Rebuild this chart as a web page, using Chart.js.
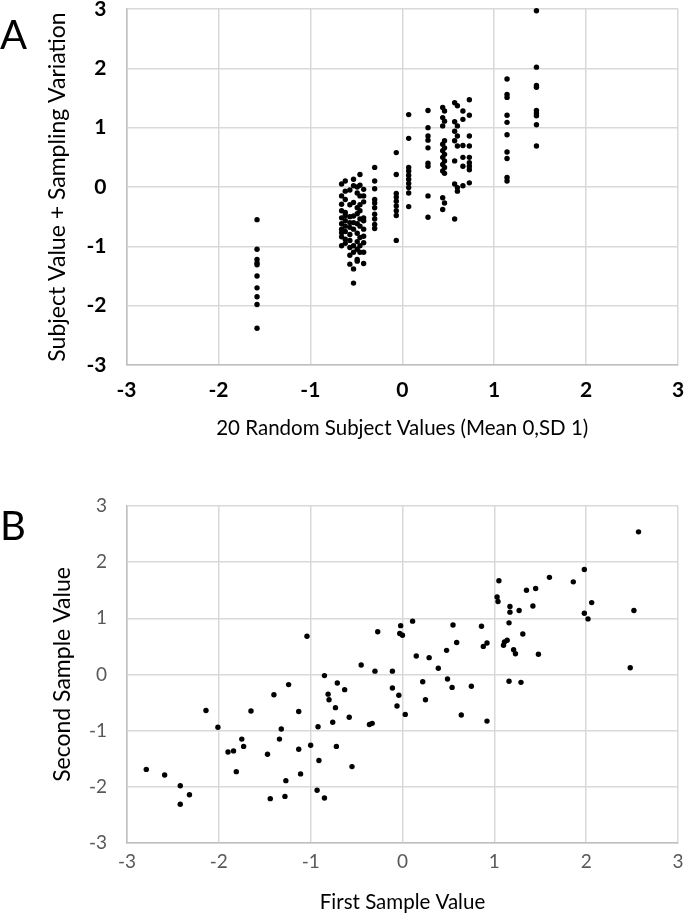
<!DOCTYPE html>
<html><head><meta charset="utf-8">
<script src="https://cdn.jsdelivr.net/npm/chart.js@4"></script>
<style>
html,body{margin:0;padding:0;background:#fff;}
#wrap{position:relative;width:685px;height:921px;overflow:hidden;background:#fff;}
canvas{position:absolute;left:0;}
.lbl{position:absolute;left:0;font-family:Lato,"Open Sans",sans-serif;font-size:40px;line-height:40px;color:#000;}
</style></head>
<body><div id="wrap">
<canvas id="cA" width="685" height="460" style="top:0"></canvas>
<canvas id="cB" width="685" height="461" style="top:460px"></canvas>
<div class="lbl" style="top:14px">A</div>
<div class="lbl" style="top:505px">B</div>
</div>
<script>
// ---- data ----
const tickValues = [-3, -2, -1, 0, 1, 2, 3];

// Panel A: 20 subject values (x) and their repeated samples (y)
const subjectValues = [-1.58, -0.66, -0.62, -0.57, -0.53, -0.49, -0.46, -0.42, -0.30, -0.065,
                       0.07, 0.28, 0.44, 0.46, 0.57, 0.60, 0.66, 0.73, 1.14, 1.46];
const subjectSamples = [
  [-0.55, -1.05, -1.22, -1.28, -1.31, -1.50, -1.70, -1.85, -1.98, -2.38],
  [0.05, -0.15, -0.29, -0.40, -0.52, -0.71, -0.77, -0.84, -0.99, -0.62],
  [0.10, -0.07, -0.21, -0.43, -0.57, -0.66, -0.88, -0.75, -0.48, -0.95],
  [-0.05, -0.30, -0.50, -0.68, -0.80, -1.02, -1.15, -1.30, -0.90, -0.60],
  [0.13, 0.02, -0.26, -0.49, -0.60, -0.71, -0.99, -1.10, -1.38, -1.62],
  [0.00, -0.10, -0.35, -0.45, -0.62, -0.78, -0.92, -1.05, -1.22, -1.25],
  [0.21, 0.03, -0.15, -0.54, -0.66, -0.85, -0.99, -1.10, -0.40, -0.30],
  [-0.04, -0.15, -0.52, -0.57, -0.71, -0.83, -0.94, -1.10, -1.29, -0.25],
  [0.33, 0.10, -0.03, -0.21, -0.27, -0.35, -0.46, -0.54, -0.63, -0.70],
  [0.58, 0.21, -0.11, -0.17, -0.24, -0.32, -0.40, -0.48, -0.90],
  [1.22, 0.82, 0.33, 0.27, 0.20, 0.13, 0.06, -0.01, -0.10, -0.33],
  [1.29, 1.00, 0.86, 0.79, 0.66, 0.40, 0.35, -0.15, -0.51],
  [1.34, 1.17, 1.03, 0.72, 0.61, 0.50, 0.38, 0.27, -0.18, -0.38],
  [1.28, 1.11, 0.78, 0.66, 0.55, 0.44, 0.33, 0.23, -0.27],
  [1.42, 1.10, 0.94, 0.78, 0.44, 0.05, -0.54],
  [1.37, 1.03, 0.86, 0.69, -0.01, -0.07],
  [1.28, 1.14, 0.70, 0.50, 0.35, 0.02],
  [1.47, 1.21, 0.86, 0.69, 0.50, 0.41, 0.35, 0.29, 0.07],
  [1.82, 1.56, 1.51, 1.21, 1.09, 0.88, 0.59, 0.48, 0.16, 0.10],
  [2.97, 2.02, 1.71, 1.68, 1.29, 1.24, 1.20, 1.05, 0.69]
];

// Panel B: first and second sample values
const firstSample = [-1.04, -0.85, -0.71, -0.63, -0.81, -0.80, -0.73, -0.58, -0.76, -0.92,
  -1.32, -2.14, -2.01, -1.65, -1.40, -1.24, -1.13, -1.34, -1.75, -1.73,
  -1.84, -1.90, -1.47, -1.13, -1.00, -0.72, -0.91, -1.81, -1.11, -1.27,
  -2.79, -2.59, -2.42, -2.32, -2.42, -1.44, -1.28, -0.93, -0.85, 2.57,
  1.98, 1.60, 1.86, 1.05, 1.35, 1.45, 1.03, 1.04, 1.17, 1.17,
  1.27, 1.42, 2.06, 1.98, 2.02, 2.52, 1.16, 1.31, 1.14, 1.11,
  1.10, 1.21, 1.23, 1.48, 2.48, 1.16, 1.29, 0.86, 0.92, 0.88,
  0.55, 0.59, 0.48, 0.39, 0.29, 0.15, 0.11, -0.02, -0.03, 0.00,
  -0.27, -0.45, -0.30, -0.11, -0.11, -0.04, -0.06, 0.03, 0.22, 0.25,
  0.49, 0.54, 0.75, 0.64, -0.36, -0.33, 0.92, -0.55];
const secondSample = [0.68, -0.02, -0.15, -0.27, -0.35, -0.45, -0.59, -0.76, -0.85, -0.93,
  -0.97, -0.64, -0.94, -0.65, -0.36, -0.18, -0.66, -1.15, -1.15, -1.28,
  -1.36, -1.38, -1.42, -1.33, -1.26, -1.28, -1.53, -1.73, -1.77, -1.89,
  -1.69, -1.79, -1.98, -2.14, -2.31, -2.21, -2.17, -2.06, -2.20, 2.54,
  1.87, 1.73, 1.65, 1.67, 1.50, 1.53, 1.38, 1.30, 1.21, 1.11,
  1.14, 1.22, 1.28, 1.09, 0.99, 1.14, 0.92, 0.72, 0.61, 0.58,
  0.52, 0.44, 0.37, 0.36, 0.12, -0.12, -0.14, 0.86, 0.56, 0.50,
  0.88, 0.57, 0.43, 0.11, 0.30, 0.33, 0.95, 0.87, 0.73, 0.70,
  0.76, 0.17, 0.06, 0.06, -0.24, -0.37, -0.56, -0.71, -0.13, -0.45,
  -0.08, -0.23, -0.21, -0.72, -0.89, -0.87, -0.83, -1.64];

// ---- build ----
const FONT = 'Lato';
const ptsA = [];
subjectValues.forEach((sx, i) => subjectSamples[i].forEach(sy => ptsA.push({x: sx, y: sy})));
const ptsB = firstSample.map((v, i) => ({x: v, y: secondSample[i]}));

function fixedTicks(scale) { scale.ticks = tickValues.map(v => ({value: v})); }
function axis(opts) {
  return {
    type: 'linear', min: -3, max: 3,
    afterBuildTicks: fixedTicks,
    grid: {color: '#d9d9d9', lineWidth: 1.5, drawTicks: false},
    border: {display: true, color: '#bfbfbf', width: 1.5},
    ticks: {color: opts.tickColor, padding: opts.tickPad, autoSkip: false, maxRotation: 0,
            font: {family: FONT, size: opts.tickSize, weight: opts.bold ? 'bold' : 'normal'}},
    title: {display: true, text: opts.title, color: '#000', font: {family: FONT, size: opts.titleSize},
            padding: opts.titlePad},
    afterFit: s => {
      if (opts.width) s.width = opts.width;
      if (opts.height) s.height = opts.height;
      s.paddingTop = 0; s.paddingBottom = 0; s.paddingLeft = 0; s.paddingRight = 0;
    }
  };
}
function makeChart(id, pts, cfg) {
  return new Chart(document.getElementById(id), {
    type: 'scatter',
    data: {datasets: [{data: pts, backgroundColor: '#000', borderWidth: 0, pointRadius: 2.7,
                       pointHoverRadius: 2.7, clip: false}]},
    options: {
      responsive: false, animation: false, devicePixelRatio: 1,
      layout: {padding: cfg.padding},
      plugins: {legend: {display: false}, tooltip: {enabled: false}},
      scales: {x: axis(cfg.x), y: axis(cfg.y)}
    }
  });
}

makeChart('cA', ptsA, {
  padding: {left: 0, right: 7, top: 9, bottom: 0},
  x: {title: '20 Random Subject Values (Mean 0,SD 1)', tickColor: '#000', bold: true, tickPad: 13,
      tickSize: 21, titleSize: 20.5, titlePad: {top: 0, bottom: 19}, height: 95},
  y: {title: 'Subject Value + Sampling Variation', tickColor: '#000', bold: true, tickPad: 20,
      tickSize: 21, titleSize: 23, titlePad: {top: 44, bottom: 0}, width: 126.5}
});
makeChart('cB', ptsB, {
  padding: {left: 0, right: 7, top: 46, bottom: 0},
  x: {title: 'First Sample Value', tickColor: '#595959', bold: false, tickPad: 7,
      tickSize: 19, titleSize: 20.5, titlePad: {top: 0, bottom: 6}, height: 78},
  y: {title: 'Second Sample Value', tickColor: '#595959', bold: false, tickPad: 20,
      tickSize: 19, titleSize: 23, titlePad: {top: 49, bottom: 0}, width: 127}
});
</script>
</body></html>
